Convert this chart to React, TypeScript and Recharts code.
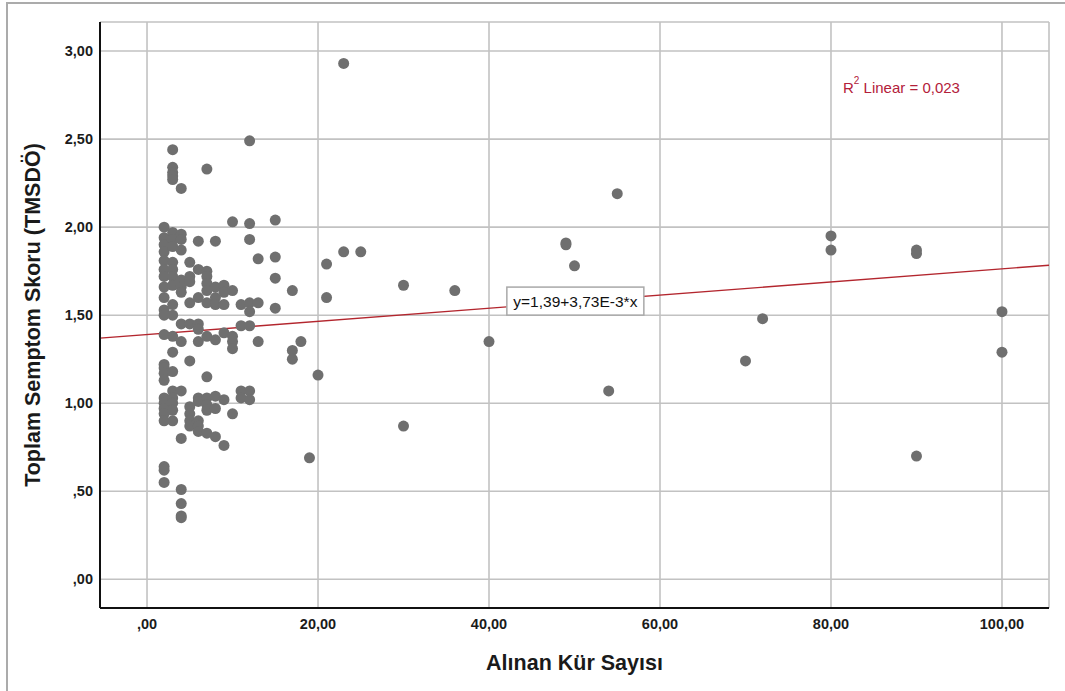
import React from 'react';
import {
  ScatterChart,
  Scatter,
  XAxis,
  YAxis,
  CartesianGrid,
  ReferenceLine,
  ReferenceDot,
} from 'recharts';

// ---- axis ticks / domains ----
const xTicks = [0, 20, 40, 60, 80, 100];
const yTicks = [0, 0.5, 1, 1.5, 2, 2.5, 3];
const xDomain: [number, number] = [-5.5, 105.5];
const yDomain: [number, number] = [-0.163, 3.165];

// ---- fitted line (from the chart annotation) ----
const fitIntercept = 1.39;
const fitSlope = 0.00373;
const fitLabel = 'y=1,39+3,73E-3*x';
const r2Label = '0,023';

// ---- data: Toplam Semptom Skoru by Alınan Kür Sayısı ----
const cycleValues = [2, 3, 4, 5, 6, 7, 8, 9, 10, 11, 12, 13, 15, 17, 18, 19, 20, 21, 23, 25, 30, 36, 40, 49, 50, 54, 55, 70, 72, 80, 90, 100];
const scores2 = [2.0, 1.94, 1.9, 1.86, 1.81, 1.76, 1.72, 1.66, 1.6, 1.53, 1.5, 1.39, 1.22, 1.2, 1.17, 1.13, 1.03, 1.0, 0.97, 0.94, 0.9, 0.64, 0.62, 0.55];
const scores3 = [2.44, 2.34, 2.31, 2.29, 2.27, 1.97, 1.93, 1.89, 1.8, 1.76, 1.72, 1.67, 1.56, 1.5, 1.38, 1.29, 1.18, 1.07, 1.03, 1.0, 0.96, 0.9];
const scores4 = [2.22, 1.96, 1.93, 1.87, 1.7, 1.66, 1.63, 1.45, 1.35, 1.07, 0.8, 0.51, 0.43, 0.36, 0.35];
const scores5 = [1.8, 1.72, 1.69, 1.57, 1.45, 1.24, 0.98, 0.94, 0.9, 0.87];
const scores6 = [1.92, 1.76, 1.6, 1.45, 1.42, 1.35, 1.03, 1.01, 0.9, 0.87, 0.84];
const scores7 = [2.33, 1.75, 1.72, 1.68, 1.64, 1.57, 1.38, 1.15, 1.03, 0.99, 0.96, 0.83];
const scores8 = [1.92, 1.66, 1.6, 1.56, 1.36, 1.04, 0.97, 0.81];
const scores9 = [1.67, 1.63, 1.56, 1.4, 1.02, 0.76];
const scores10 = [2.03, 1.64, 1.38, 1.35, 1.31, 0.94];
const scores11 = [1.56, 1.44, 1.07, 1.03];
const scores12 = [2.49, 2.02, 1.93, 1.57, 1.52, 1.44, 1.07, 1.02];
const scores13 = [1.82, 1.57, 1.35];
const scores15 = [2.04, 1.83, 1.71, 1.54];
const scores17 = [1.64, 1.3, 1.25];
const scores18 = [1.35];
const scores19 = [0.69];
const scores20 = [1.16];
const scores21 = [1.79, 1.6];
const scores23 = [2.93, 1.86];
const scores25 = [1.86];
const scores30 = [1.67, 0.87];
const scores36 = [1.64];
const scores40 = [1.35];
const scores49 = [1.91, 1.9];
const scores50 = [1.78];
const scores54 = [1.07];
const scores55 = [2.19];
const scores70 = [1.24];
const scores72 = [1.48];
const scores80 = [1.95, 1.87];
const scores90 = [1.87, 1.85, 0.7];
const scores100 = [1.52, 1.29];

const scoreGroups = [
  scores2, scores3, scores4, scores5, scores6, scores7, scores8, scores9, scores10, scores11,
  scores12, scores13, scores15, scores17, scores18, scores19, scores20, scores21, scores23, scores25,
  scores30, scores36, scores40, scores49, scores50, scores54, scores55, scores70, scores72, scores80,
  scores90, scores100,
];

const points = cycleValues.flatMap((x, i) => scoreGroups[i].map((y) => ({ x, y })));

const fmt = (v: number) => {
  const s = v.toFixed(2).replace('.', ',');
  return s.startsWith('0,') ? s.slice(1) : s;
};

const FONT = '"Liberation Sans", Arial, sans-serif';
const tickStyle = { fill: '#1b1b1b', fontSize: 14.5, fontWeight: 700, fontFamily: FONT };

const Dot = (p: any) => <circle cx={p.cx} cy={p.cy} r={5.5} fill="#6f6f6f" />;

const EqBox = (p: any) => {
  const { cx, cy } = p;
  return (
    <g>
      <rect x={cx - 68.5} y={cy - 14} width={137} height={28} fill="#ffffff" stroke="#a9a9a9" strokeWidth={1.5} />
      <text x={cx} y={cy} textAnchor="middle" dominantBaseline="central" fontSize={15.5} fontFamily={FONT} fill="#111">
        {fitLabel}
      </text>
    </g>
  );
};

const YTitle = (p: any) => {
  const vb = p.viewBox || { x: 0, y: 22, width: 100, height: 586 };
  const cx = 33;
  const cy = vb.y + vb.height / 2;
  return (
    <text x={cx} y={cy} transform={`rotate(-90 ${cx} ${cy})`} textAnchor="middle" dominantBaseline="central"
      fontSize={21.5} fontWeight={700} fontFamily={FONT} fill="#1a1a1a">
      Toplam Semptom Skoru (TMSDÖ)
    </text>
  );
};

const XTitle = (p: any) => {
  const vb = p.viewBox || { x: 100, y: 608, width: 949, height: 83 };
  const cx = vb.x + vb.width / 2;
  return (
    <text x={cx} y={663} textAnchor="middle" dominantBaseline="central"
      fontSize={21.5} fontWeight={700} fontFamily={FONT} fill="#1a1a1a">
      Alınan Kür Sayısı
    </text>
  );
};

const fit = (x: number) => fitIntercept + fitSlope * x;

export default function App() {
  return (
    <div style={{ position: 'absolute', left: 0, top: 0, width: 1065, height: 691, overflow: 'hidden', background: '#fff' }}>
      <div style={{ position: 'absolute', left: 6, top: 2, width: 1200, height: 800, borderLeft: '2px solid #ababab', borderTop: '2px solid #ababab' }} />
      <div style={{ position: 'absolute', left: 0, top: 0 }}>
        <ScatterChart width={1065} height={691} margin={{ top: 22, right: 16, bottom: 0, left: 0 }}>
          <CartesianGrid stroke="#c2c2c2" strokeWidth={1.6} />
          <XAxis
            type="number"
            dataKey="x"
            domain={xDomain}
            ticks={xTicks}
            interval={0}
            allowDataOverflow
            tickFormatter={fmt}
            axisLine={{ stroke: '#111', strokeWidth: 2 }}
            tickLine={false}
            tickSize={8}
            tickMargin={3}
            height={83}
            tick={tickStyle}
            label={XTitle}
          />
          <YAxis
            type="number"
            dataKey="y"
            domain={yDomain}
            ticks={yTicks}
            interval={0}
            allowDataOverflow
            tickFormatter={fmt}
            axisLine={{ stroke: '#111', strokeWidth: 2 }}
            tickLine={false}
            tickSize={5}
            tickMargin={2}
            width={100}
            tick={tickStyle}
            label={YTitle}
          />
          <Scatter data={points} shape={Dot} isAnimationActive={false} />
          <ReferenceLine
            segment={[{ x: xDomain[0], y: fit(xDomain[0]) }, { x: xDomain[1], y: fit(xDomain[1]) }]}
            stroke="#b3262e"
            strokeWidth={1.4}
            ifOverflow="visible"
          />
          <ReferenceDot x={50.1} y={1.58} shape={EqBox} ifOverflow="visible" />
        </ScatterChart>
      </div>
      <div style={{ position: 'absolute', left: 843, top: 79, fontFamily: FONT, fontSize: 15, lineHeight: '18px', color: '#b3203a', whiteSpace: 'nowrap' }}>
        R<sup style={{ fontSize: 10, lineHeight: '10px', verticalAlign: 'top', position: 'relative', top: -3 }}>2</sup> Linear = {r2Label}
      </div>
    </div>
  );
}
